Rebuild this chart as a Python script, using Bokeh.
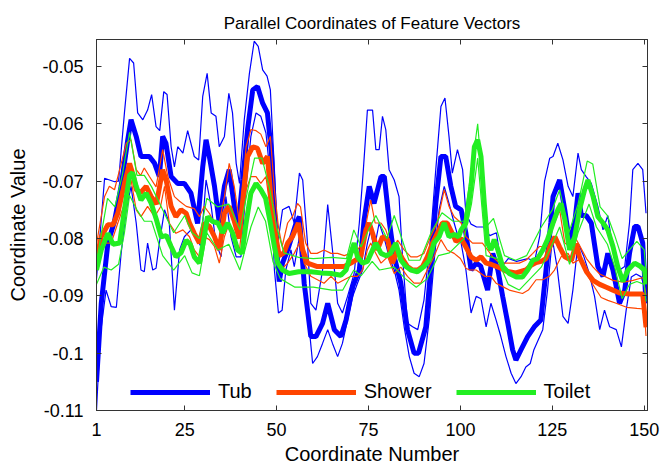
from bokeh.plotting import figure
from bokeh.models import Range1d, FixedTicker, LinearAxis, CustomJSTickFormatter, Legend, LegendItem
from bokeh.embed import file_html
from bokeh.resources import INLINE

# ---------------- data ----------------
categories = ["Tub", "Shower", "Toilet"]
x_ticks = [1, 25, 50, 75, 100, 125, 150]
y_ticks = [-0.11, -0.10, -0.09, -0.08, -0.07, -0.06, -0.05]

tub_mean_x = [1, 2.3, 4.1, 5.9, 7.7, 9.5, 10.4, 11.8, 13.1, 15.4,
              16.8, 18.1, 19, 19.9, 21.3, 23.1, 24.9, 26.7, 28.5, 29.9,
              30.8, 31.7, 33.1, 34.4, 35.8, 37.1, 39.4, 40.8, 42.1, 43.5,
              44.8, 46.2, 47.5, 48.6, 49.8, 50.7, 51.6, 53, 55.3, 56.2,
              57.5, 59.3, 60.7, 62.5, 63.9, 65.7, 67.5, 68.9, 70.7, 72.5,
              73.8, 75.2, 76.5, 78.4, 79.3, 80.6, 82, 83.8, 85.6, 87.4,
              88.6, 90.6, 91.9, 93.3, 94.7, 96, 97.4, 98.7, 100.2, 101.5,
              102.9, 104.3, 105.5, 107.4, 108.8, 110.2, 111.5, 112.9, 114.2, 115.1,
              116.5, 118.3, 120.1, 121.9, 123.3, 124.6, 125.2, 127, 128.4, 129.7,
              131.1, 132, 132.9, 134.2, 135.6, 137.4, 138.8, 140.1, 141.5, 143.3,
              144.7, 146, 147.4, 148.3, 149.6, 150.5]
tub_mean_y = [-0.105, -0.0913, -0.0808, -0.077, -0.0709, -0.0628, -0.0593, -0.0622, -0.0657, -0.0657,
              -0.0669, -0.0692, -0.0622, -0.0634, -0.0692, -0.0704, -0.0704, -0.0721, -0.0774, -0.0675,
              -0.0628, -0.0657, -0.0709, -0.0773, -0.0709, -0.068, -0.0785, -0.0697, -0.061, -0.0541,
              -0.0535, -0.0564, -0.0581, -0.0651, -0.08, -0.0875, -0.0843, -0.082, -0.0773, -0.0762,
              -0.0878, -0.0971, -0.0971, -0.0948, -0.0913, -0.0959, -0.0971, -0.0942, -0.0884, -0.0855,
              -0.0768, -0.0709, -0.0739, -0.0692, -0.0692, -0.0768, -0.0832, -0.0878, -0.0959, -0.1,
              -0.1, -0.0954, -0.0855, -0.0739, -0.0657, -0.0657, -0.0709, -0.0744, -0.075, -0.0791,
              -0.0855, -0.0843, -0.0848, -0.089, -0.0826, -0.0855, -0.0901, -0.0948, -0.0994, -0.1012,
              -0.0994, -0.0971, -0.0954, -0.0942, -0.0855, -0.0773, -0.0727, -0.0698, -0.075, -0.0808,
              -0.0773, -0.0721, -0.076, -0.076, -0.0773, -0.0849, -0.0866, -0.0826, -0.0855, -0.0913,
              -0.089, -0.0826, -0.0779, -0.0779, -0.0808, -0.0913]

tub_upper_x = [1, 3.2, 5.9, 7, 8.6, 10, 11.1, 12.2, 13.6, 14.9,
               16, 17.2, 18.2, 19.3, 20.2, 21.3, 22.2, 23.1, 24.5, 25.8,
               27.6, 28.8, 29.9, 31.1, 32.2, 33.5, 34.4, 35.8, 37, 38,
               39, 39.9, 41.2, 42.6, 43.9, 45, 46.2, 47.4, 48.3, 49.4,
               50.3, 51.6, 53.4, 54.8, 56.2, 57.1, 58.4, 59.3, 60.7, 62.5,
               63.9, 65.2, 66.6, 67.9, 69.3, 71.1, 72.5, 73.6, 74.7, 76.1,
               77, 77.9, 78.8, 79.7, 80.6, 82, 83.3, 84.2, 85.6, 87,
               88.4, 90.1, 91.9, 93.3, 94.7, 95.8, 96.9, 97.8, 99.2, 100.6,
               101.5, 102.9, 104.4, 106.2, 108, 109.8, 111.2, 113, 115.3, 118.4,
               120.2, 121.6, 122.9, 124.3, 125.2, 126.5, 127.9, 129.3, 130.6, 132,
               132.9, 134.2, 135.6, 137.4, 138.8, 140.1, 141.5, 143.3, 144.7, 146,
               146.9, 148.3, 149.6, 150.5]
tub_upper_y = [-0.087, -0.0695, -0.0701, -0.070, -0.0581, -0.0486, -0.0494, -0.0581, -0.0593, -0.0576,
               -0.0549, -0.0605, -0.0612, -0.0544, -0.0549, -0.064, -0.0675, -0.064, -0.0651, -0.0612,
               -0.0657, -0.0663, -0.0552, -0.0512, -0.0581, -0.0587, -0.064, -0.0622, -0.0547, -0.0581,
               -0.0669, -0.0704, -0.0593, -0.0512, -0.0456, -0.0465, -0.0506, -0.0517, -0.0541, -0.068,
               -0.0808, -0.075, -0.0744, -0.0773, -0.0686, -0.0698, -0.0808, -0.0913, -0.0925, -0.0855,
               -0.0741, -0.082, -0.0913, -0.093, -0.0901, -0.0861, -0.0773, -0.068, -0.0576, -0.0576,
               -0.0645, -0.0645, -0.0587, -0.061, -0.068, -0.0698, -0.0727, -0.0826, -0.0948, -0.0954,
               -0.0959, -0.0907, -0.0797, -0.068, -0.057, -0.0555, -0.0622, -0.0686, -0.0645, -0.068,
               -0.0756, -0.0775, -0.078, -0.078, -0.0795, -0.079, -0.085, -0.0835, -0.084, -0.0835,
               -0.084, -0.0795, -0.070, -0.066, -0.0657, -0.0634, -0.0663, -0.0709, -0.0727, -0.0651,
               -0.068, -0.0692, -0.0704, -0.0744, -0.0785, -0.076, -0.082, -0.0855, -0.0849, -0.0773,
               -0.068, -0.0669, -0.068, -0.0756]

tub_lower_x = [1, 2, 3.6, 5, 6.4, 7.7, 9.1, 10.4, 11.8, 13.1,
               14, 14.9, 16.3, 17.2, 18.1, 19.5, 20.8, 22.2, 23.6, 24.9,
               26.7, 28, 29.4, 30.8, 32.2, 33.5, 34.9, 36.2, 37.6, 39,
               40.3, 41.7, 43, 44.4, 45.7, 47.1, 48.3, 49.4, 50.5, 51.5,
               52.5, 53.9, 54.8, 56.2, 57.5, 58.4, 59.8, 61.1, 62.5, 63.9,
               65.2, 66.6, 67.9, 69.3, 70.7, 72, 73.4, 74.7, 75.6, 76.5,
               77.9, 79.3, 80.6, 82, 83.3, 84.7, 86.1, 87.4, 88.8, 90.1,
               91.5, 92.8, 94.2, 95.6, 96.9, 98.3, 99.5, 100.2, 101.5, 102.9,
               104.3, 105.6, 107, 108.3, 109.7, 111, 112.4, 113.8, 115.1, 116.5,
               117.8, 119, 120, 122.4, 123.7, 125, 126.3, 127.9, 129.3, 130.6,
               132, 133.5, 135, 136.5, 137.9, 139.2, 140.6, 142.4, 143.8, 145.1,
               146.5, 147.8, 149.2, 150.5]
tub_lower_y = [-0.11, -0.097, -0.089, -0.0919, -0.092, -0.0826, -0.075, -0.0709, -0.0773, -0.0855,
               -0.0858, -0.0808, -0.0855, -0.0852, -0.0808, -0.075, -0.0773, -0.0925, -0.082, -0.0797,
               -0.0785, -0.0797, -0.0814, -0.0698, -0.0744, -0.0808, -0.0832, -0.0727, -0.0797, -0.0832,
               -0.0832, -0.0709, -0.0622, -0.0581, -0.0587, -0.0616, -0.0692, -0.0855, -0.093, -0.0925,
               -0.0855, -0.082, -0.0849, -0.0797, -0.0855, -0.0925, -0.1018, -0.1006, -0.0983, -0.0959,
               -0.0983, -0.1006, -0.0983, -0.0942, -0.0901, -0.0878, -0.0855, -0.0808, -0.0785, -0.082,
               -0.0773, -0.080, -0.0832, -0.0855, -0.089, -0.0954, -0.1006, -0.1035, -0.1041, -0.1018,
               -0.0942, -0.0843, -0.075, -0.0709, -0.0739, -0.0773, -0.080, -0.0808, -0.0855, -0.093,
               -0.0901, -0.0905, -0.0954, -0.0913, -0.0942, -0.0971, -0.1006, -0.1035, -0.1053, -0.1041,
               -0.1024, -0.1018, -0.0994, -0.0959, -0.089, -0.080, -0.085, -0.0936, -0.0948, -0.089,
               -0.0808, -0.083, -0.086, -0.0901, -0.0959, -0.0925, -0.0954, -0.0959, -0.0989, -0.0925,
               -0.0867, -0.0862, -0.0867, -0.0895]

shower_mean_x = [1, 2.3, 4.1, 5.5, 6.8, 8.6, 10, 11, 11.8, 13,
                 14.5, 15.9, 17.3, 19, 20, 21.3, 22.6, 24, 25.4, 26.3,
                 27.6, 29, 30.3, 31.7, 33.1, 34.4, 35.8, 37.1, 38.5, 39.8,
                 41, 42.1, 43.5, 44.8, 46.2, 47.5, 48.6, 49.8, 50.7, 52,
                 53, 54.3, 55.9, 57.1, 58.4, 61.1, 64.8, 68.4, 70.2, 72.9,
                 74.3, 75.2, 76.1, 77.4, 78.8, 80.2, 81.5, 82.9, 84.2, 85.6,
                 87, 88.4, 89.7, 91, 92.4, 93.7, 95.1, 96.4, 97.8, 98.8,
                 100.2, 101.5, 102.9, 104.3, 105.6, 107, 108.3, 111, 112.4, 115.1,
                 117.8, 119.2, 120.6, 122, 123.3, 124.3, 125.7, 127, 128.4, 130.2,
                 131.5, 132.4, 134.3, 136.1, 137.9, 139.7, 141.5, 143.3, 146, 149.6,
                 150.5]
shower_mean_y = [-0.0835, -0.0797, -0.0776, -0.0776, -0.0756, -0.0704, -0.0669, -0.069, -0.0715, -0.072,
                 -0.0709, -0.0727, -0.074, -0.068, -0.070, -0.0744, -0.0762, -0.075, -0.0756, -0.0773,
                 -0.0791, -0.0808, -0.0773, -0.0779, -0.0797, -0.082, -0.0756, -0.0744, -0.077, -0.080,
                 -0.072, -0.0657, -0.064, -0.0643, -0.0669, -0.0657, -0.0739, -0.0797, -0.083, -0.0825,
                 -0.0808, -0.0797, -0.0773, -0.082, -0.0843, -0.0849, -0.0849, -0.0849, -0.0843, -0.0832,
                 -0.0785, -0.0773, -0.0791, -0.082, -0.0797, -0.0802, -0.0843, -0.082, -0.0835, -0.0849,
                 -0.0855, -0.0855, -0.0849, -0.0832, -0.0808, -0.0791, -0.0773, -0.0773, -0.0791, -0.0805,
                 -0.080, -0.0815, -0.0832, -0.0838, -0.0832, -0.0843, -0.0845, -0.0852, -0.0857, -0.086,
                 -0.0855, -0.0847, -0.0842, -0.084, -0.0835, -0.0815, -0.0797, -0.0815, -0.0832, -0.0838,
                 -0.0809, -0.0832, -0.0858, -0.0873, -0.088, -0.0885, -0.089, -0.0895, -0.0897, -0.0897,
                 -0.0955]

shower_upper_x = [1, 3.2, 4.5, 5.9, 7.3, 9.1, 10.4, 11.8, 13, 14,
                  15.4, 17.2, 19, 20.4, 22.2, 23.6, 25.4, 27.6, 29, 30.3,
                  31.7, 33.1, 34.4, 35.8, 37.1, 38.5, 39.9, 41.7, 43, 44.4,
                  45.7, 47.1, 48.3, 49.4, 50.5, 51.5, 53, 54.3, 55.7, 56.5,
                  57.9, 59.3, 61, 62.9, 64.8, 66.6, 68.4, 70.2, 72, 73.4,
                  74.7, 75.6, 76.8, 78.4, 79.7, 81.5, 82.9, 84.7, 86.5, 88.3,
                  90.1, 91.9, 93.7, 95.6, 96.9, 98.3, 100.2, 101.5, 103.3, 106,
                  107.4, 108.8, 110.6, 116, 117.8, 119.7, 121.5, 123.3, 124.6, 125.6,
                  127, 128.4, 129.7, 131.1, 132.4, 134.3, 136.1, 137.9, 141.5, 144.3,
                  147, 149.7, 150.5]
shower_upper_y = [-0.081, -0.0727, -0.0709, -0.0715, -0.068, -0.0634, -0.0628, -0.068, -0.069, -0.0677,
                  -0.0692, -0.071, -0.0645, -0.0692, -0.0727, -0.0735, -0.0744, -0.0748, -0.0762, -0.0744,
                  -0.0756, -0.0773, -0.0773, -0.0727, -0.0669, -0.071, -0.0773, -0.064, -0.061, -0.0612,
                  -0.0618, -0.064, -0.0622, -0.0715, -0.078, -0.0814, -0.0773, -0.0762, -0.0739, -0.0745,
                  -0.0808, -0.0826, -0.0826, -0.082, -0.0826, -0.0826, -0.083, -0.0826, -0.082, -0.0808,
                  -0.0762, -0.0733, -0.0773, -0.0773, -0.0785, -0.082, -0.0803, -0.082, -0.0832, -0.0832,
                  -0.0826, -0.0797, -0.0773, -0.0715, -0.0744, -0.0762, -0.0773, -0.0797, -0.0808, -0.0808,
                  -0.082, -0.0832, -0.0843, -0.0843, -0.0838, -0.0826, -0.0814, -0.0814, -0.079, -0.0773,
                  -0.075, -0.0808, -0.0814, -0.0797, -0.0812, -0.0835, -0.085, -0.0862, -0.0873, -0.0876,
                  -0.0873, -0.0868, -0.090]

shower_lower_x = [1, 3.2, 5, 6.8, 8.6, 10.4, 11.8, 13.1, 14.9, 16.8,
                  18.4, 19.5, 20.8, 22.6, 24.5, 26.3, 27.6, 29, 30.3, 31.7,
                  33.1, 34.4, 35.8, 37.1, 38.5, 39.9, 41.7, 43, 44.4, 45.7,
                  47.1, 48.3, 49.4, 50.5, 51.2, 53, 54.8, 56.2, 57.5, 59.3,
                  61.1, 62.9, 64.8, 66.6, 68.4, 70.2, 72, 73.4, 74.7, 75.6,
                  76.5, 78.4, 80.2, 82, 83.8, 85.6, 87.4, 89.2, 91, 92.8,
                  94.7, 96.4, 98.3, 100, 101.5, 102.5, 104.3, 106.6, 108.3, 109.7,
                  111.5, 113.3, 116.9, 118.5, 120.6, 122.4, 124.2, 125.6, 127.4, 129.3,
                  130.6, 132.9, 134.7, 136.5, 138.3, 140.1, 142, 145.2, 148, 150,
                  150.5]
shower_lower_y = [-0.0855, -0.0808, -0.0808, -0.0773, -0.074, -0.0698, -0.075, -0.0762, -0.0744, -0.0762,
                  -0.0745, -0.0709, -0.0773, -0.0791, -0.0785, -0.0797, -0.082, -0.0832, -0.0797, -0.0802,
                  -0.0814, -0.0843, -0.0797, -0.0773, -0.0797, -0.082, -0.0715, -0.0692, -0.0692, -0.0704,
                  -0.0692, -0.075, -0.082, -0.0843, -0.0855, -0.0843, -0.0826, -0.0808, -0.0843, -0.0866,
                  -0.0872, -0.0878, -0.0866, -0.0878, -0.0872, -0.0866, -0.0866, -0.0855, -0.082, -0.0808,
                  -0.082, -0.0843, -0.0832, -0.0861, -0.085, -0.0866, -0.0878, -0.0878, -0.0855, -0.0832,
                  -0.0802, -0.082, -0.0826, -0.0835, -0.0852, -0.0855, -0.0855, -0.0866, -0.0866, -0.0878,
                  -0.0884, -0.089, -0.0896, -0.089, -0.0872, -0.0872, -0.0866, -0.0855, -0.0832, -0.0826,
                  -0.0843, -0.0835, -0.0866, -0.0885, -0.0903, -0.0908, -0.0912, -0.092, -0.0922, -0.0923,
                  -0.097]

toilet_mean_x = [1, 2.3, 4.1, 5.5, 7.3, 8.6, 10, 10.8, 11.8, 13.1,
                 14.5, 15.9, 17.2, 18.6, 20, 21.3, 22.6, 24, 25.4, 26.5,
                 27.6, 29, 30.3, 31.2, 32.5, 34, 35.3, 36.7, 38, 39.4,
                 40.6, 41.7, 43, 44.4, 45.7, 47, 48.3, 49.4, 50.3, 51.6,
                 53.4, 56, 59.3, 62, 64.8, 67.5, 68.9, 70.2, 71.1, 72,
                 73.4, 74.7, 76.1, 77, 78.4, 79.8, 81, 82.4, 83.8, 85.2,
                 86.5, 88.3, 90.1, 91.5, 92.8, 94.2, 95.6, 96.9, 98.3, 99.5,
                 100.2, 101.5, 102.9, 103.8, 104.7, 105.6, 106.5, 107.4, 108.3, 109.2,
                 110.2, 111.5, 113.3, 115.1, 116.9, 118.3, 119.7, 121, 122.4, 123.7,
                 125.2, 126.5, 127.4, 128.4, 129.7, 131.1, 132.4, 133.8, 134.7, 136.1,
                 137.4, 138.8, 140.1, 141.5, 142.8, 144.2, 145.6, 147.4, 148.8, 150.1,
                 150.5]
toilet_mean_y = [-0.0855, -0.082, -0.0791, -0.081, -0.0808, -0.075, -0.069, -0.0685, -0.0709, -0.0733,
                 -0.0721, -0.0739, -0.0765, -0.0797, -0.0795, -0.0814, -0.0832, -0.0825, -0.0803, -0.081,
                 -0.0832, -0.0843, -0.0797, -0.0762, -0.077, -0.0773, -0.079, -0.0773, -0.079, -0.082,
                 -0.0826, -0.0773, -0.0721, -0.0704, -0.0715, -0.073, -0.0773, -0.0814, -0.0843, -0.0855,
                 -0.0861, -0.0858, -0.0858, -0.086, -0.0861, -0.0864, -0.0855, -0.0826, -0.0808, -0.0832,
                 -0.0843, -0.084, -0.082, -0.0808, -0.0826, -0.083, -0.0826, -0.0808, -0.0838, -0.0849,
                 -0.0855, -0.0858, -0.0849, -0.0838, -0.0808, -0.0797, -0.0773, -0.0797, -0.0793, -0.0797,
                 -0.0785, -0.0773, -0.0709, -0.064, -0.0628, -0.0657, -0.0739, -0.0808, -0.082, -0.0802,
                 -0.082, -0.0849, -0.0861, -0.0867, -0.0867, -0.0855, -0.0838, -0.0835, -0.082, -0.0802,
                 -0.0773, -0.075, -0.0739, -0.0767, -0.082, -0.0797, -0.075, -0.0715, -0.0698, -0.0727,
                 -0.0762, -0.0773, -0.0785, -0.0814, -0.0849, -0.0875, -0.0855, -0.0843, -0.0848, -0.0855,
                 -0.088]

toilet_upper_x = [1, 4, 6, 8, 10, 12, 14, 16, 19, 22,
                  25, 27, 29, 31, 34, 37, 40, 42, 44, 46,
                  48, 50, 52, 56, 60, 65, 69, 71, 73, 75,
                  77, 80, 82, 86, 89, 92, 95, 98, 101, 103,
                  104.7, 107, 109, 112, 115, 118, 122, 125, 127, 129.5,
                  132, 134.5, 136, 138, 140, 142, 144, 146, 148, 150, 150.5]
toilet_upper_y = [-0.084, -0.073, -0.0745, -0.069, -0.0615, -0.069, -0.069, -0.071, -0.075, -0.079,
                  -0.076, -0.079, -0.080, -0.073, -0.0745, -0.074, -0.0785, -0.072, -0.066, -0.066,
                  -0.071, -0.078, -0.0825, -0.0833, -0.0835, -0.0833, -0.0835, -0.0785, -0.0815, -0.0785,
                  -0.076, -0.080, -0.076, -0.0838, -0.0838, -0.079, -0.0755, -0.077, -0.077, -0.068,
                  -0.060, -0.078, -0.0765, -0.083, -0.0838, -0.083, -0.078, -0.075, -0.0715, -0.079,
                  -0.074, -0.0665, -0.067, -0.0745, -0.076, -0.0795, -0.0835, -0.082, -0.0805, -0.082, -0.086]

toilet_lower_x = [1, 3, 5, 7, 8.6, 10, 12, 14, 16, 19,
                  22, 25, 27, 29, 31, 34, 37, 40, 43, 45,
                  47, 49, 51, 55, 60, 65, 68, 71, 73, 76,
                  78, 82, 85, 88, 91, 94, 97, 101, 103, 104.7,
                  107, 110, 113, 116, 119, 122, 125, 127, 129.7, 132,
                  135, 137, 140, 142, 144, 146, 148, 150, 150.5]
toilet_lower_y = [-0.088, -0.085, -0.0855, -0.0845, -0.079, -0.0725, -0.075, -0.077, -0.077, -0.083,
                  -0.0855, -0.083, -0.086, -0.0865, -0.079, -0.082, -0.081, -0.0855, -0.078, -0.0745,
                  -0.077, -0.084, -0.087, -0.0885, -0.0885, -0.089, -0.089, -0.0855, -0.0865, -0.084,
                  -0.0855, -0.085, -0.087, -0.0885, -0.087, -0.083, -0.0825, -0.080, -0.074, -0.066,
                  -0.083, -0.0835, -0.088, -0.089, -0.087, -0.085, -0.081, -0.078, -0.0845, -0.079,
                  -0.074, -0.078, -0.081, -0.085, -0.0905, -0.088, -0.0875, -0.088, -0.091]

colors = ["#0000ff", "#ff4500", "#22ee22"]

# ---------------- figure ----------------
FONT = "Liberation Sans"
p = figure(width=663, height=474, output_backend="svg", toolbar_location=None,
           x_range=Range1d(1, 150.9), y_range=Range1d(-0.11, -0.0453),
           min_border_left=96, min_border_right=16, min_border_top=39, min_border_bottom=64,
           title="Parallel Coordinates of Feature Vectors")
p.title.text_font = FONT
p.title.text_font_size = "17px"
p.title.text_font_style = "normal"
p.title.align = "center"
p.title.text_color = "black"
p.title.standoff = 14
p.grid.visible = False
p.outline_line_color = "#333333"
p.outline_line_width = 1
p.background_fill_color = "white"
p.border_fill_color = "white"

fmt = CustomJSTickFormatter(code="return String(Math.round(tick*100)/100);")
p.xaxis[0].ticker = FixedTicker(ticks=x_ticks)
p.yaxis[0].ticker = FixedTicker(ticks=y_ticks)
p.xaxis[0].formatter = fmt
p.yaxis[0].formatter = fmt
p.xaxis[0].axis_label = "Coordinate Number"
p.yaxis[0].axis_label = "Coordinate Value"
p.xaxis[0].major_label_standoff = 12
p.yaxis[0].major_label_standoff = 13
p.xaxis[0].axis_label_standoff = 4
p.yaxis[0].axis_label_standoff = 10
for ax in (p.xaxis[0], p.yaxis[0]):
    ax.major_tick_in = 5
    ax.major_tick_out = 0
    ax.minor_tick_line_color = None
    ax.axis_line_color = "#333333"
    ax.major_tick_line_color = "#333333"
    ax.major_label_text_font = FONT
    ax.major_label_text_font_size = "18px"
    ax.major_label_text_color = "black"
    ax.axis_label_text_font = FONT
    ax.axis_label_text_font_size = "20px"
    ax.axis_label_text_font_style = "normal"
    ax.axis_label_text_color = "black"

blank = CustomJSTickFormatter(code="return '';")
top_ax = LinearAxis(ticker=FixedTicker(ticks=x_ticks), formatter=blank,
                    major_tick_in=5, major_tick_out=0, minor_tick_line_color=None,
                    axis_line_color="#333333", major_tick_line_color="#333333",
                    major_label_standoff=0, major_label_text_font_size="1px")
right_ax = LinearAxis(ticker=FixedTicker(ticks=y_ticks), formatter=blank,
                      major_tick_in=5, major_tick_out=0, minor_tick_line_color=None,
                      axis_line_color="#333333", major_tick_line_color="#333333",
                      major_label_standoff=0, major_label_text_font_size="1px")
p.add_layout(top_ax, "above")
p.add_layout(right_ax, "right")

groups = [
    (tub_mean_x, tub_mean_y, tub_upper_x, tub_upper_y, tub_lower_x, tub_lower_y),
    (shower_mean_x, shower_mean_y, shower_upper_x, shower_upper_y, shower_lower_x, shower_lower_y),
    (toilet_mean_x, toilet_mean_y, toilet_upper_x, toilet_upper_y, toilet_lower_x, toilet_lower_y),
]
items = []
for name, col, (mx, my, ux, uy, lx, ly) in zip(categories, colors, groups):
    p.line(ux, uy, line_color=col, line_width=1.2)
    p.line(lx, ly, line_color=col, line_width=1.2)
    r = p.line(mx, my, line_color=col, line_width=5)
    items.append(LegendItem(label=name, renderers=[r]))

legend = Legend(items=items, orientation="horizontal", location=(34, 7),
                glyph_width=80, glyph_height=20, label_standoff=8, spacing=24,
                padding=0, margin=0, background_fill_alpha=0, border_line_alpha=0,
                label_text_font=FONT, label_text_font_size="20px", label_text_color="black")
p.add_layout(legend)

open("out.html", "w").write(file_html(p, INLINE))
